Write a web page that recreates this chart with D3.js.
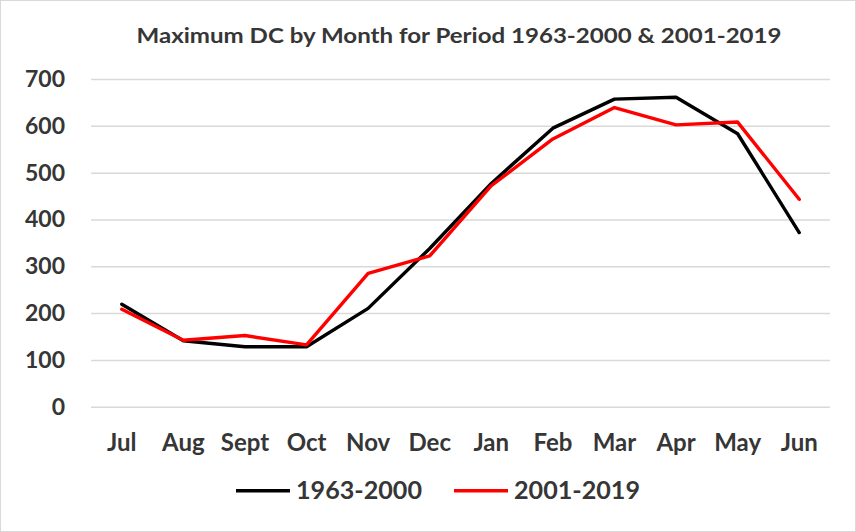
<!DOCTYPE html>
<html>
<head>
<meta charset="utf-8">
<script src="https://cdn.jsdelivr.net/npm/d3@7/dist/d3.min.js"></script>
<style>
  html, body { margin: 0; padding: 0; background: #fff; }
  svg { display: block; }
  text { font-family: Lato, "Open Sans", sans-serif; font-weight: bold; }
</style>
</head>
<body>
<svg id="chart" width="856" height="532"></svg>
<script>
// Monthly maximum Drought Code, hydrological year starting in July
const months = ["Jul", "Aug", "Sept", "Oct", "Nov", "Dec", "Jan", "Feb", "Mar", "Apr", "May", "Jun"];
const period1963 = [219, 141, 128, 128, 210, 338, 477, 595, 657, 661, 583, 372];
const period2001 = [208, 142, 152, 132, 285, 322, 472, 572, 639, 602, 608, 443];
const yTicks = [0, 100, 200, 300, 400, 500, 600, 700];
const seriesNames = ["1963-2000", "2001-2019"];
const seriesColors = ["#000000", "#ff0000"];

const svg = d3.select("#chart");
const W = 856, H = 532;
const plot = { left: 91, right: 830, top: 79, bottom: 406.7 };
const textColor = "#363636";

// outer chart border
svg.append("rect")
  .attr("x", 0.5).attr("y", 0.5)
  .attr("width", W - 1).attr("height", H - 1)
  .attr("fill", "#fff").attr("stroke", "#d9d9d9");

const x = d3.scaleBand().domain(months).range([plot.left, plot.right]);
const y = d3.scaleLinear().domain([0, 700]).range([plot.bottom, plot.top]);

// title, widened to the chart's condensed-bold look
svg.append("text")
  .attr("x", 459).attr("y", 42.5)
  .attr("text-anchor", "middle")
  .attr("font-size", 21)
  .attr("fill", textColor)
  .attr("textLength", 645)
  .attr("lengthAdjust", "spacingAndGlyphs")
  .text("Maximum DC by Month for Period 1963-2000 & 2001-2019");

// horizontal gridlines + y labels
const yAxis = d3.axisLeft(y).tickValues(yTicks).tickSize(-(plot.right - plot.left)).tickPadding(26);
const gy = svg.append("g").attr("transform", `translate(${plot.left},0)`).call(yAxis);
gy.select(".domain").remove();
gy.selectAll(".tick line").attr("stroke", "#d9d9d9").attr("stroke-width", 1.5);
gy.selectAll(".tick text")
  .attr("font-size", 23).attr("fill", textColor)
  .style("font-family", "Lato, 'Open Sans', sans-serif").style("font-weight", "bold");

// x labels
const xAxis = d3.axisBottom(x).tickSize(0).tickPadding(27);
const gx = svg.append("g").attr("transform", `translate(0,${plot.bottom})`).call(xAxis);
gx.select(".domain").remove();
gx.selectAll(".tick text")
  .attr("font-size", 24).attr("fill", textColor)
  .style("font-family", "Lato, 'Open Sans', sans-serif").style("font-weight", "bold");

// lines
const line = d3.line()
  .x((d, i) => x(months[i]) + x.bandwidth() / 2)
  .y(d => y(d));

[period1963, period2001].forEach((vals, k) => {
  svg.append("path")
    .datum(vals)
    .attr("d", line)
    .attr("fill", "none")
    .attr("stroke", seriesColors[k])
    .attr("stroke-width", 3.4)
    .attr("stroke-linejoin", "round")
    .attr("stroke-linecap", "round");
});

// legend
const legendPos = [236, 454];
seriesNames.forEach((name, k) => {
  const g = svg.append("g").attr("transform", `translate(${legendPos[k]},490.7)`);
  g.append("line")
    .attr("x1", 0).attr("x2", 54).attr("y1", 0).attr("y2", 0)
    .attr("stroke", seriesColors[k]).attr("stroke-width", 3.4);
  g.append("text")
    .attr("x", 60).attr("y", 7.8)
    .attr("font-size", 24).attr("fill", textColor)
    .attr("textLength", 126)
    .attr("lengthAdjust", "spacingAndGlyphs")
    .text(name);
});
</script>
</body>
</html>
